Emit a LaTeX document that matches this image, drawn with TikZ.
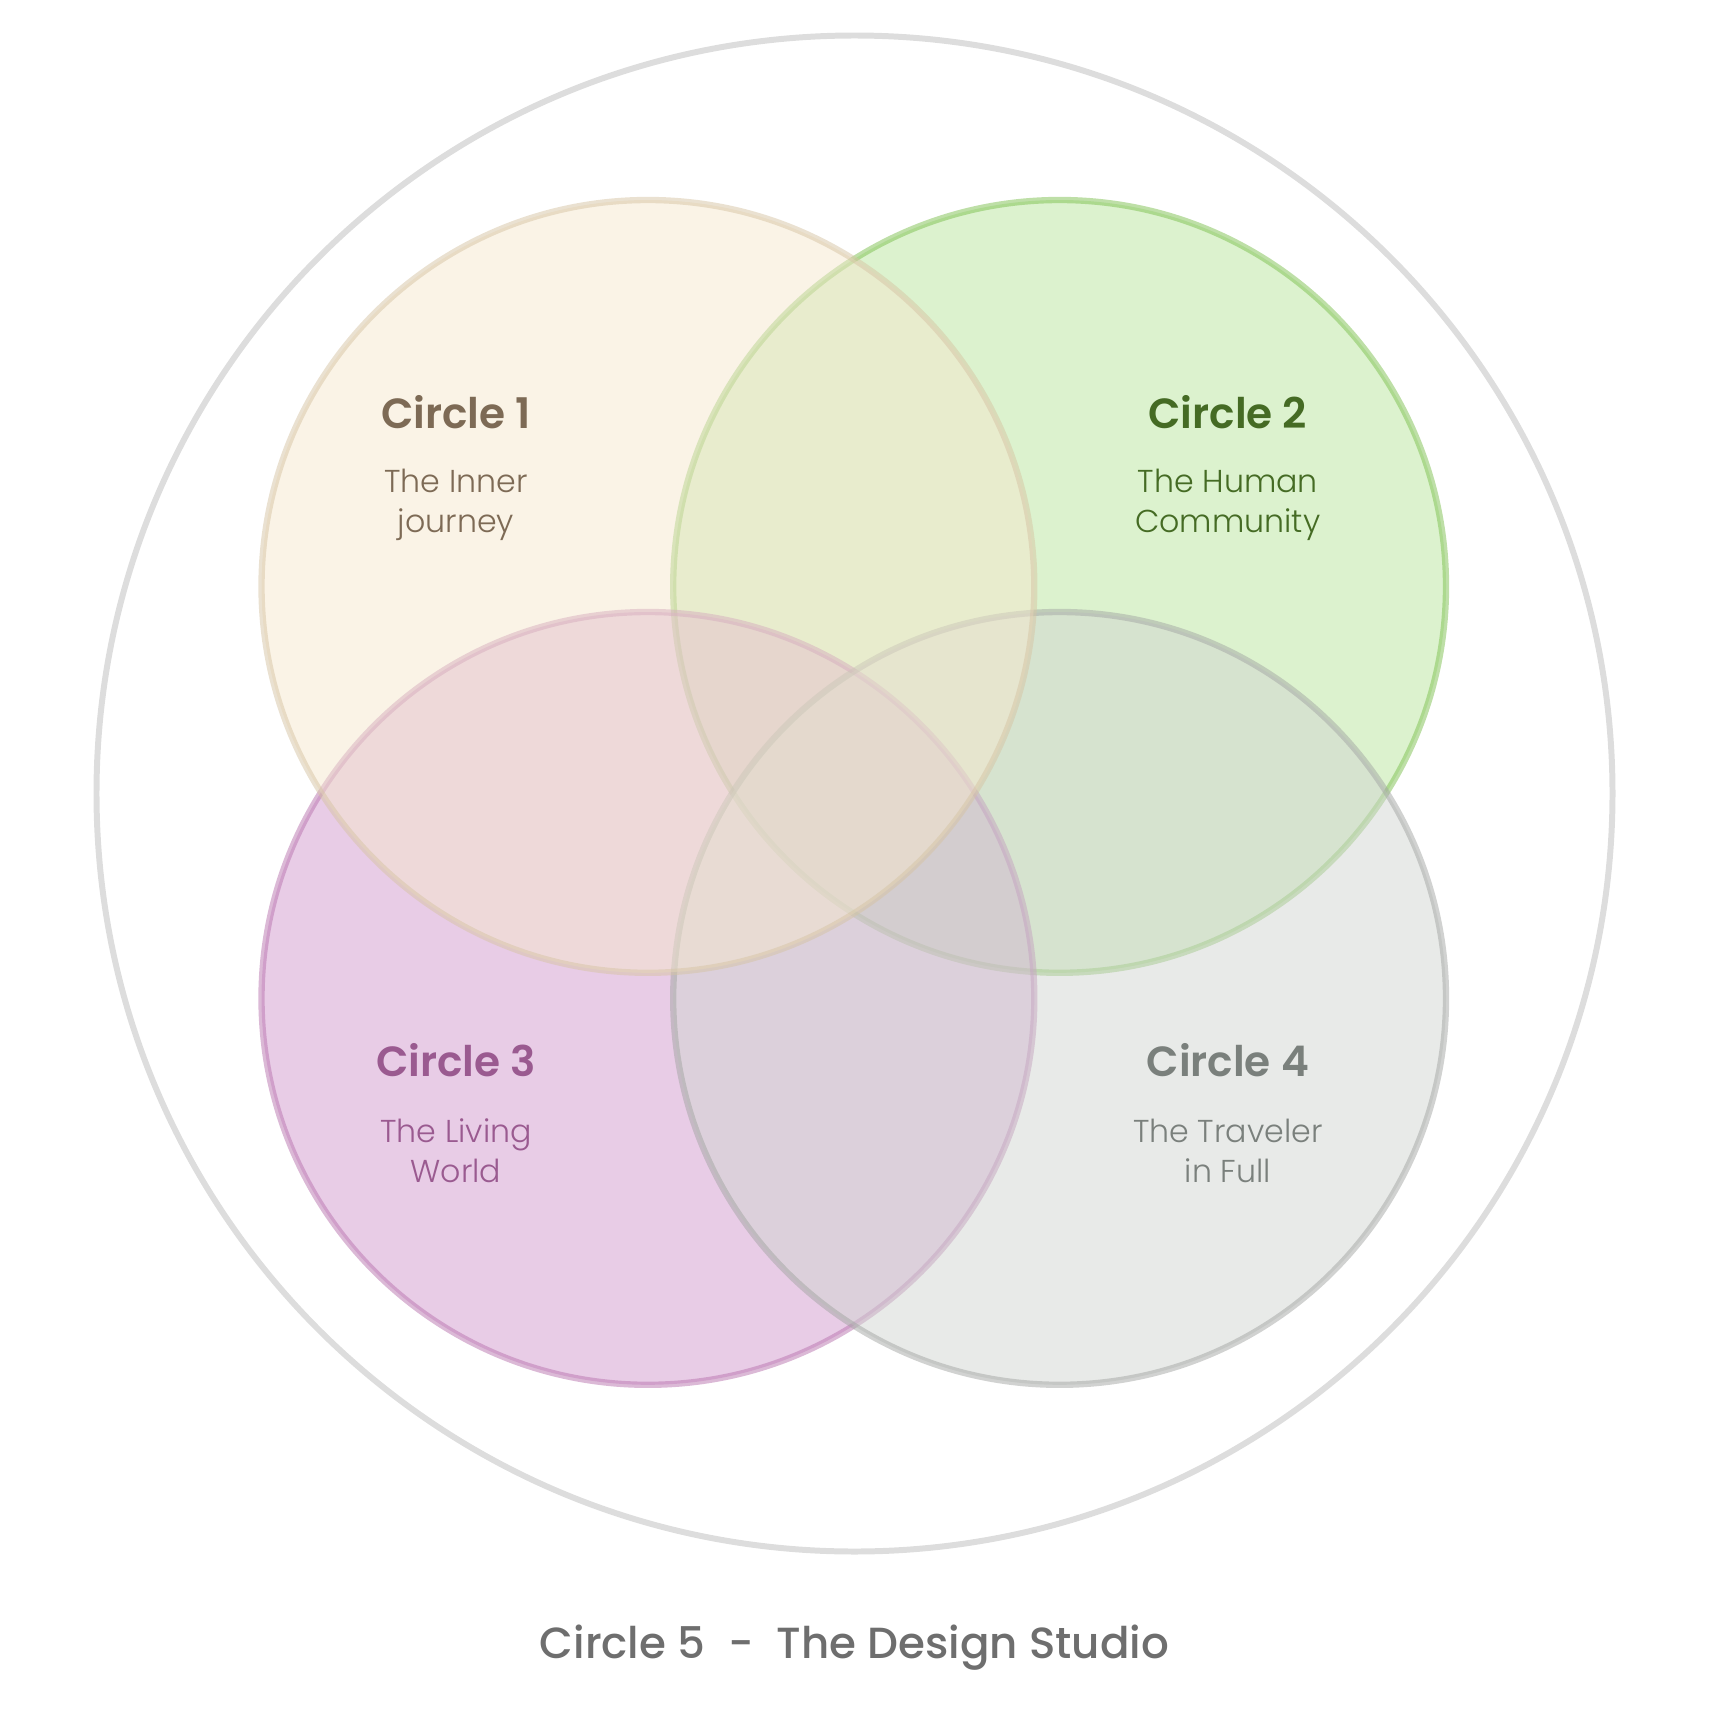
\documentclass[tikz,border=0pt]{standalone}
\usepackage{fontspec}
\setmainfont{Poppins}[BoldFont={Poppins SemiBold}]
\newfontfamily\lightfont{Poppins Light}
\newfontfamily\mediumfont{Poppins Medium}
\definecolor{fillone}{HTML}{F5E7CD}
\definecolor{filltwo}{HTML}{B9E59D}
\definecolor{fillthree}{HTML}{D199CD}
\definecolor{fillfour}{HTML}{D1D5D1}
\definecolor{lineone}{HTML}{D6C4A4}
\definecolor{linetwo}{HTML}{7DC050}
\definecolor{linethree}{HTML}{B873AE}
\definecolor{linefour}{HTML}{A3A6A3}
\definecolor{textone}{HTML}{7D6A55}
\definecolor{texttwo}{HTML}{456B24}
\definecolor{textthree}{HTML}{9A5A90}
\definecolor{textfour}{HTML}{7A807C}
\definecolor{outerline}{HTML}{DDDDDD}
\definecolor{captiontext}{HTML}{6E6E6E}
\begin{document}
\begin{tikzpicture}[x=0.01cm,y=0.01cm]
\tikzset{
  ring/.style={line width=1.8pt,opacity=0.5},
  title/.style={font=\bfseries\fontsize{12}{14}\selectfont,inner sep=0pt},
  subtitle/.style={font=\lightfont\fontsize{9}{11.4}\selectfont,align=center,inner sep=0pt}
}
\useasboundingbox (0,0) rectangle (1709,-1709);
\draw [outerline,line width=1.7pt] (854.5,-793.5) circle (758);
\draw [ring,fill=filltwo,draw=linetwo] (1059.6,-586.4) circle (386.4);
\draw [ring,fill=fillthree,draw=linethree] (647.9,-998.4) circle (386.4);
\draw [ring,fill=fillfour,draw=linefour] (1059.6,-998.4) circle (386.4);
\draw [ring,fill=fillone,draw=lineone] (647.9,-586.4) circle (386.4);
\node [title,textone] (c1) at (456,-412) {Circle 1};
\node [subtitle,textone] (s1) at (456,-505) {The Inner\\journey};
\node [title,texttwo] (c2) at (1227.8,-412) {Circle 2};
\node [subtitle,texttwo] (s2) at (1227.8,-505) {The Human\\Community};
\node [title,textthree] (c3) at (456,-1060.5) {Circle 3};
\node [subtitle,textthree] (s3) at (456,-1151) {The Living\\World};
\node [title,textfour] (c4) at (1227.8,-1060.5) {Circle 4};
\node [subtitle,textfour] (s4) at (1227.8,-1151) {The Traveler\\in Full};
\node [font=\mediumfont\fontsize{12.4}{15}\selectfont,captiontext,inner sep=0pt] (c5) at (854.5,-1648) {Circle 5~ - ~The Design Studio};
\end{tikzpicture}
\end{document}
